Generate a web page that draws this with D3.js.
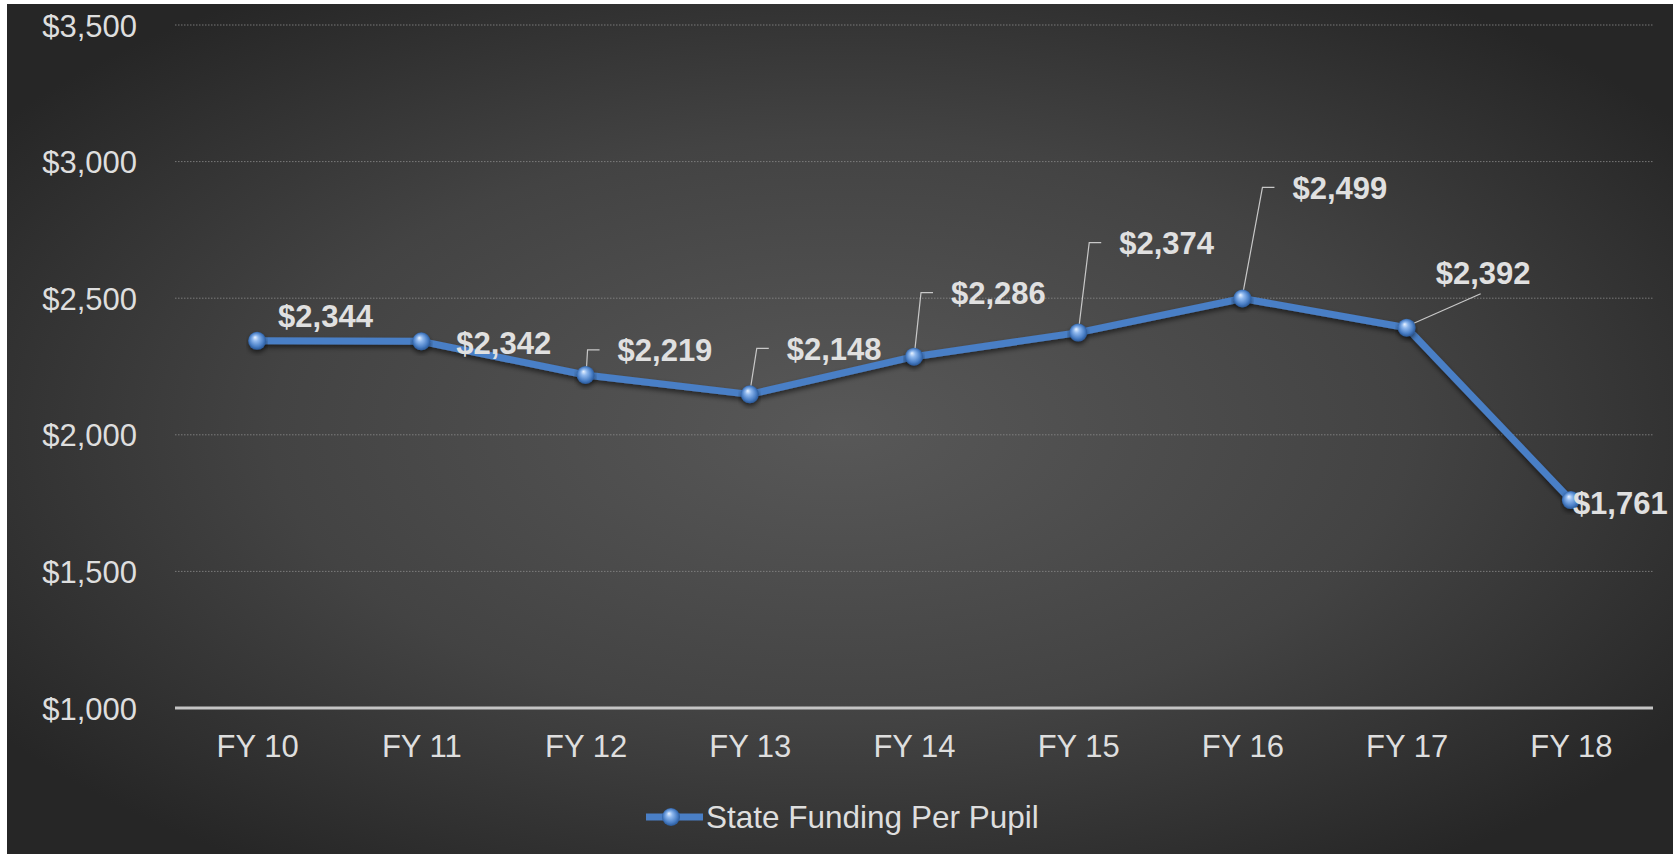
<!DOCTYPE html>
<html>
<head>
<meta charset="utf-8">
<script src="https://cdn.jsdelivr.net/npm/d3@7"></script>
<style>
  html, body { margin: 0; padding: 0; background: #ffffff; }
  svg { display: block; }
</style>
</head>
<body>
<svg id="chart" width="1673" height="854"></svg>
<script>
// ---- data ----
const categories = ["FY 10", "FY 11", "FY 12", "FY 13", "FY 14", "FY 15", "FY 16", "FY 17", "FY 18"];
const values = [2344, 2342, 2219, 2148, 2286, 2374, 2499, 2392, 1761];
const yTicks = [1000, 1500, 2000, 2500, 3000, 3500];
const seriesName = "State Funding Per Pupil";

// ---- label layout (pixel offsets of label start / centre from each point) ----
const labelOffsets = [
  { dx: 21, dy: -25, leader: "none" },
  { dx: 35, dy: 1, leader: "none" },
  { dx: 32, dy: -25, leader: "elbow" },
  { dx: 37, dy: -46, leader: "elbow" },
  { dx: 37, dy: -64, leader: "elbow" },
  { dx: 41, dy: -90, leader: "elbow" },
  { dx: 50, dy: -111, leader: "elbow" },
  { dx: 29, dy: -55, leader: "diag" },
  { dx: 2, dy: 3, leader: "none" }
];

const W = 1673, H = 854;
const margin = { left: 175, right: 20, top: 25, bottom: 146 };
const svg = d3.select("#chart");
const defs = svg.append("defs");

// background gradient
const bg = defs.append("radialGradient").attr("id", "bgGrad")
  .attr("cx", "50%").attr("cy", "50%").attr("r", "62%");
bg.append("stop").attr("offset", "0%").attr("stop-color", "#585858");
bg.append("stop").attr("offset", "55%").attr("stop-color", "#434343");
bg.append("stop").attr("offset", "100%").attr("stop-color", "#262626");

// marker gradient
const mg = defs.append("radialGradient").attr("id", "mkGrad")
  .attr("cx", "50%").attr("cy", "50%").attr("r", "55%")
  .attr("fx", "38%").attr("fy", "30%");
mg.append("stop").attr("offset", "0%").attr("stop-color", "#eaf3ff");
mg.append("stop").attr("offset", "30%").attr("stop-color", "#8fb8ee");
mg.append("stop").attr("offset", "70%").attr("stop-color", "#4a7fc6");
mg.append("stop").attr("offset", "100%").attr("stop-color", "#1f4c8a");

// shadow filter
const f = defs.append("filter").attr("id", "shadow").attr("x", "-10%").attr("y", "-10%").attr("width", "120%").attr("height", "140%");
f.append("feDropShadow").attr("dx", 0).attr("dy", 3).attr("stdDeviation", 2.5)
  .attr("flood-color", "#000").attr("flood-opacity", 0.55);

svg.append("rect").attr("x", 7).attr("y", 4).attr("width", W - 7).attr("height", H - 4)
  .attr("fill", "url(#bgGrad)");

const x = d3.scalePoint().domain(categories)
  .range([margin.left, W - margin.right]).padding(0.5);
const y = d3.scaleLinear().domain([1000, 3500]).range([H - margin.bottom, margin.top]);

// gridlines
const grid = svg.append("g");
grid.selectAll("line").data(yTicks.filter(d => d !== 1000)).join("line")
  .attr("x1", margin.left).attr("x2", W - margin.right)
  .attr("y1", d => y(d)).attr("y2", d => y(d))
  .attr("stroke", "#8a8a8a").attr("stroke-width", 1)
  .attr("stroke-dasharray", "1.5,1.5").attr("opacity", 0.8);

// baseline
svg.append("line")
  .attr("x1", margin.left).attr("x2", W - margin.right)
  .attr("y1", y(1000)).attr("y2", y(1000))
  .attr("stroke", "#c4c4c4").attr("stroke-width", 3);

// y axis labels
const yAxis = d3.axisLeft(y).tickValues(yTicks).tickSize(0).tickPadding(0)
  .tickFormat(d => "$" + d3.format(",")(d));
const yg = svg.append("g").attr("transform", `translate(137,0)`).call(yAxis);
yg.select(".domain").remove();
yg.selectAll("text").attr("fill", "#dedede")
  .style("font-family", "'Liberation Sans', Arial, sans-serif").style("font-size", "31px")
  .attr("dy", "0.36em");

// x axis labels
const xAxis = d3.axisBottom(x).tickSize(0).tickPadding(0);
const xg = svg.append("g").attr("transform", `translate(0,${y(1000)})`).call(xAxis);
xg.select(".domain").remove();
xg.selectAll("text").attr("fill", "#dedede")
  .style("font-family", "'Liberation Sans', Arial, sans-serif").style("font-size", "31px")
  .attr("y", 49).attr("dy", 0);

// line
const pts = categories.map((c, i) => ({ c, v: values[i], px: x(c), py: y(values[i]), o: labelOffsets[i] }));
const line = d3.line().x(d => d.px).y(d => d.py);
svg.append("path").datum(pts).attr("d", line)
  .attr("fill", "none").attr("stroke", "#4a7fc6").attr("stroke-width", 7)
  .attr("stroke-linejoin", "round").attr("filter", "url(#shadow)");

// leaders
const lg = svg.append("g").attr("fill", "none").attr("stroke", "#c8c8c8").attr("stroke-width", 1.2);
pts.forEach(p => {
  const lx = p.px + p.o.dx, ly = p.py + p.o.dy;
  if (p.o.leader === "elbow") {
    lg.append("path").attr("d", `M${p.px + 1},${p.py - 8} L${lx - 30},${ly} L${lx - 18},${ly}`);
  } else if (p.o.leader === "diag") {
    lg.append("path").attr("d", `M${p.px + 6},${p.py - 4} L${lx + 45},${ly + 21}`);
  }
});

// markers
svg.append("g").selectAll("circle").data(pts).join("circle")
  .attr("cx", d => d.px).attr("cy", d => d.py).attr("r", 9)
  .attr("fill", "url(#mkGrad)").attr("filter", "url(#shadow)");

// data labels
svg.append("g").selectAll("text").data(pts).join("text")
  .attr("x", d => d.px + d.o.dx).attr("y", d => d.py + d.o.dy)
  .attr("dy", "0.36em")
  .attr("fill", "#e0e0e0")
  .style("font-family", "'Liberation Sans', Arial, sans-serif")
  .style("font-size", "31px").style("font-weight", "bold")
  .text(d => "$" + d3.format(",")(d.v));

// legend
const leg = svg.append("g").attr("transform", "translate(0,817)");
leg.append("line").attr("x1", 646).attr("x2", 703).attr("y1", 0).attr("y2", 0)
  .attr("stroke", "#4a7fc6").attr("stroke-width", 7);
leg.append("circle").attr("cx", 671).attr("cy", 0).attr("r", 9).attr("fill", "url(#mkGrad)");
leg.append("text").attr("x", 706).attr("y", 0).attr("dy", "0.36em")
  .attr("fill", "#dedede")
  .style("font-family", "'Liberation Sans', Arial, sans-serif").style("font-size", "31.5px")
  .text(seriesName);
</script>
</body>
</html>
